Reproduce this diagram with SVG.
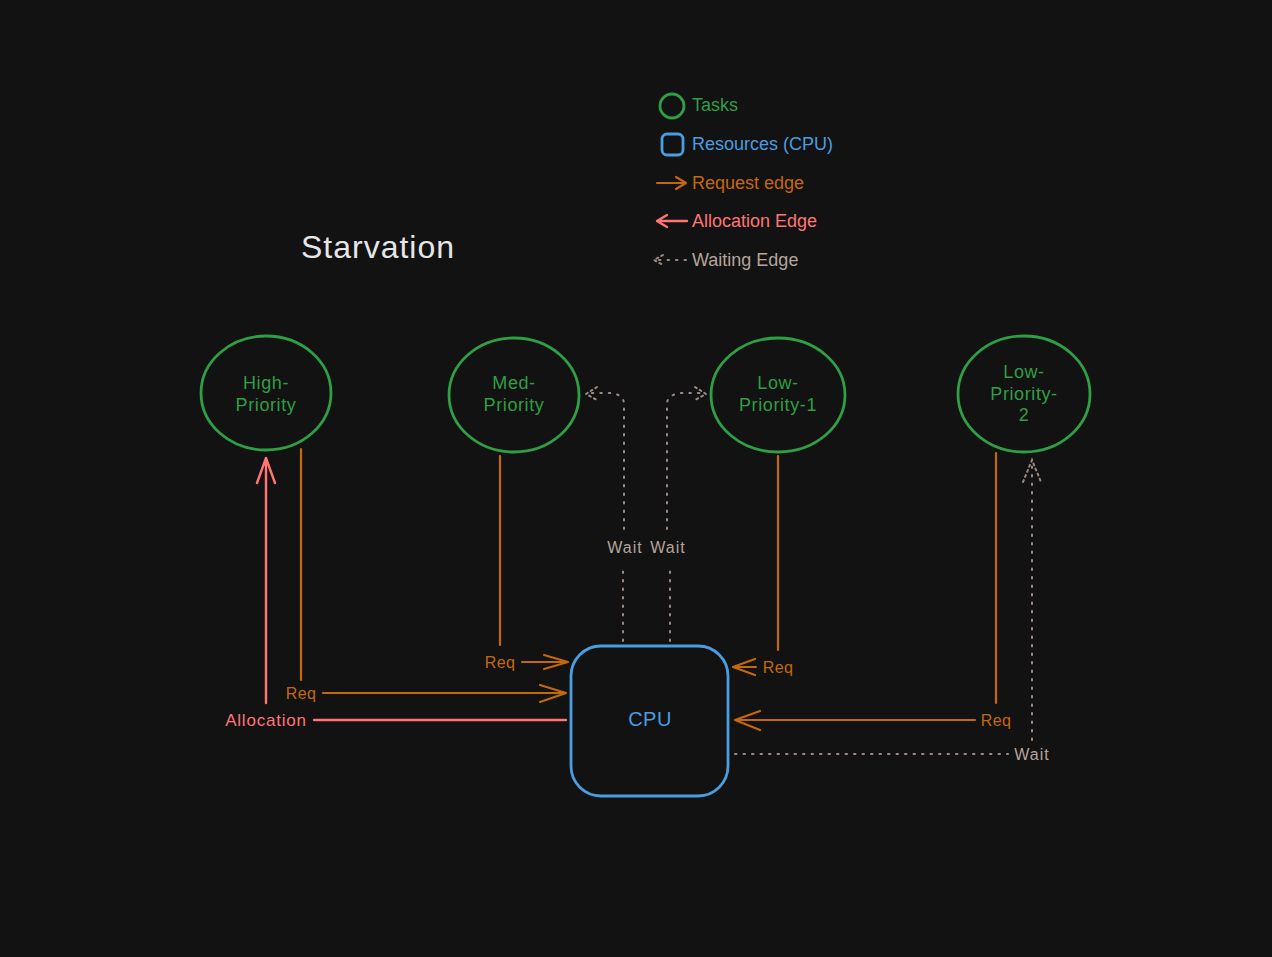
<svg xmlns="http://www.w3.org/2000/svg" width="1272" height="957" viewBox="0 0 1272 957">
<style>
text{font-family:"Liberation Sans","DejaVu Sans",sans-serif;}
.task{fill:none;stroke:#2f9e44;stroke-width:2.8;}
.tl{fill:#2f9e44;font-size:18px;text-anchor:middle;letter-spacing:0.6px;}
.res{fill:none;stroke:#4a9de0;stroke-width:2.8;}
.req{fill:none;stroke:#c4680c;stroke-width:2.2;stroke-linecap:round;stroke-linejoin:round;}
.alloc{fill:none;stroke:#ff7575;stroke-width:2.4;stroke-linecap:round;stroke-linejoin:round;}
.wait{fill:none;stroke:#9c8a82;stroke-width:2;stroke-dasharray:1.5 7;stroke-linecap:round;}
.wa{fill:none;stroke:#9c8a82;stroke-width:2;stroke-dasharray:2 3.5;stroke-linecap:round;}
.reqt{fill:#c4680c;font-size:16px;text-anchor:middle;letter-spacing:0.3px;}
.allt{fill:#ff7575;font-size:17px;text-anchor:middle;letter-spacing:0.8px;}
.waitt{fill:#b4a49c;font-size:16px;text-anchor:middle;letter-spacing:1px;}
.lg{font-size:18px;}
</style>
<rect width="1272" height="957" fill="#121212"/>

<g id="title"><text x="378" y="258" font-size="32" fill="#e6e6e6" text-anchor="middle" letter-spacing="1">Starvation</text></g>

<g id="legend">
  <circle cx="672" cy="106" r="12" class="task"/>
  <text class="lg" x="692" y="111" fill="#2f9e44">Tasks</text>
  <rect x="662" y="134" width="21" height="21" rx="5" class="res"/>
  <text class="lg" x="692" y="150" fill="#4a9de0">Resources (CPU)</text>
  <path d="M657 183 H686 M676 177 L686 183 L676 189" class="req" stroke-width="2.6"/>
  <text class="lg" x="692" y="189" fill="#c4680c">Request edge</text>
  <path d="M687 221 H657 M667 215 L657 221 L667 227" class="alloc" stroke-width="2.6"/>
  <text class="lg" x="692" y="227" fill="#ff7575">Allocation Edge</text>
  <path d="M686 260 H654" class="wait" stroke-dasharray="2 5"/>
  <path d="M663 255 L654 260 L663 265" class="wa"/>
  <text class="lg" x="692" y="266" fill="#b4a49c">Waiting Edge</text>
</g>

<g id="high-priority">
  <ellipse cx="266" cy="393" rx="65" ry="57" class="task"/>
  <text class="tl" x="266" y="389">High-</text>
  <text class="tl" x="266" y="411">Priority</text>
</g>
<g id="med-priority">
  <ellipse cx="514" cy="395" rx="65" ry="57" class="task"/>
  <text class="tl" x="514" y="389">Med-</text>
  <text class="tl" x="514" y="411">Priority</text>
</g>
<g id="low-priority-1">
  <ellipse cx="778" cy="395" rx="67" ry="57" class="task"/>
  <text class="tl" x="778" y="389">Low-</text>
  <text class="tl" x="778" y="411">Priority-1</text>
</g>
<g id="low-priority-2">
  <ellipse cx="1024" cy="394" rx="66" ry="58" class="task"/>
  <text class="tl" x="1024" y="378">Low-</text>
  <text class="tl" x="1024" y="400">Priority-</text>
  <text class="tl" x="1024" y="421">2</text>
</g>
<g id="cpu">
  <rect x="571" y="646" width="157" height="150" rx="30" class="res"/>
  <text x="650" y="726" fill="#4a9de0" font-size="20" text-anchor="middle" letter-spacing="0.5">CPU</text>
</g>

<g id="connectors">
  <!-- allocation CPU -> High -->
  <path d="M566 720 H314" class="alloc"/>
  <path d="M266 703 V458 M257 483 L266 458 L275 483" class="alloc"/>
  <text class="allt" x="266" y="726">Allocation</text>
  <!-- High req -->
  <path d="M301 449 V680" class="req"/>
  <path d="M323 693 H566 M540 685 L566 693 L540 702" class="req"/>
  <text class="reqt" x="301" y="699">Req</text>
  <!-- Med req -->
  <path d="M500 456 V645" class="req"/>
  <path d="M522 662 H568 M544 655 L568 662 L544 669" class="req"/>
  <text class="reqt" x="500" y="668">Req</text>
  <!-- Low-1 req -->
  <path d="M778 456 V650" class="req"/>
  <path d="M756 667 H733 M755 659 L733 667 L755 675" class="req"/>
  <text class="reqt" x="778" y="673">Req</text>
  <!-- Low-2 req -->
  <path d="M996 453 V703" class="req"/>
  <path d="M975 720 H735 M760 711 L735 720 L760 730" class="req"/>
  <text class="reqt" x="996" y="726">Req</text>
  <!-- wait to Med -->
  <path d="M623 641 V567" class="wait"/>
  <path d="M624 529 V403 Q623 395 612 393 H587" class="wait"/>
  <path d="M597 387 L586 394 L597 400" class="wa"/>
  <text class="waitt" x="625" y="553">Wait</text>
  <!-- wait to Low-1 -->
  <path d="M670 641 V567" class="wait"/>
  <path d="M667 529 V403 Q668 395 680 393 H705" class="wait"/>
  <path d="M695 387 L706 394 L695 400" class="wa"/>
  <text class="waitt" x="668" y="553">Wait</text>
  <!-- wait to Low-2 -->
  <path d="M735 754 H1008" class="wait"/>
  <path d="M1032 740 V462" class="wait"/>
  <path d="M1023 482 L1032 460 L1041 482" class="wa"/>
  <text class="waitt" x="1032" y="760">Wait</text>
</g>
</svg>
